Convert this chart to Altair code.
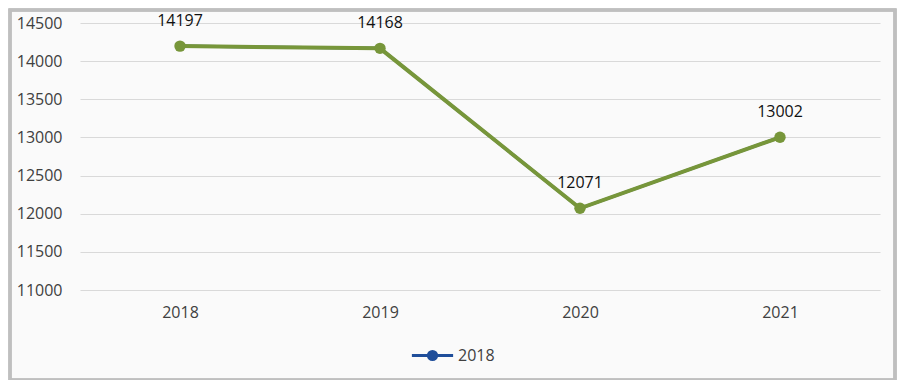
import altair as alt
import pandas as pd

years = ["2018", "2019", "2020", "2021"]
values = [14197, 14168, 12071, 13002]
series_name = ["2018", "2018", "2018", "2018"]
labels = ["14197", "14168", "12071", "13002"]

df = pd.DataFrame({"year": years, "value": values, "series": series_name, "label": labels})

FONT = "Open Sans"
GREEN = "#77963a"
BLUE = "#1f4e9a"

x = alt.X("year:N", sort=years, title=None,
          scale=alt.Scale(paddingInner=0, paddingOuter=0.5),
          axis=alt.Axis(labelAngle=0, domain=False, ticks=False, labelPadding=14,
                        labelFontSize=16, labelColor="#404040", labelFont=FONT))
y = alt.Y("value:Q", title=None,
          scale=alt.Scale(domain=[11000, 14500], nice=False, zero=False),
          axis=alt.Axis(values=[11000, 11500, 12000, 12500, 13000, 13500, 14000, 14500],
                        format="d", domain=False, ticks=False, labelPadding=18,
                        labelFontSize=16, labelColor="#404040", labelFont=FONT,
                        gridColor="#d9d9d9", gridWidth=1))

shape = "M-1,0L1,0M0.2,0A0.2,0.2,0,1,1,-0.2,0A0.2,0.2,0,1,1,0.2,0Z"

legend_line = alt.Chart(df).mark_line(strokeWidth=3).encode(
    x=x, y=y,
    color=alt.Color("series:N", title=None,
                    scale=alt.Scale(range=[BLUE]),
                    legend=alt.Legend(orient="none", legendX=330, legendY=310,
                                      symbolType=shape, symbolSize=1700,
                                      symbolStrokeWidth=3, symbolFillColor=BLUE,
                                      labelFontSize=16, labelFont=FONT,
                                      labelColor="#404040", labelOffset=3)),
)

green_line = alt.Chart(df).mark_line(strokeWidth=4, color=GREEN).encode(x=x, y=y)
green_pts = alt.Chart(df).mark_circle(size=130, color=GREEN, opacity=1).encode(x=x, y=y)
text = alt.Chart(df).mark_text(dy=-25, fontSize=16, font=FONT, color="#111111").encode(
    x=x, y=y, text="label:N")

frame = alt.Chart(df).mark_rect(fill=None, stroke="#bfbfbf", strokeWidth=3).encode(
    x=alt.value(-70), x2=alt.value(815), y=alt.value(-13), y2=alt.value(357))

chart = alt.layer(frame, legend_line, green_line, green_pts, text).properties(
    width=800, height=267,
    autosize=alt.AutoSizeParams(type="none"),
    padding={"left": 72, "top": 15, "right": 17, "bottom": 90},
    background="#fafafa",
).configure_view(stroke=None)

chart.save("out.html", embed_options={"renderer": "svg", "actions": False})
